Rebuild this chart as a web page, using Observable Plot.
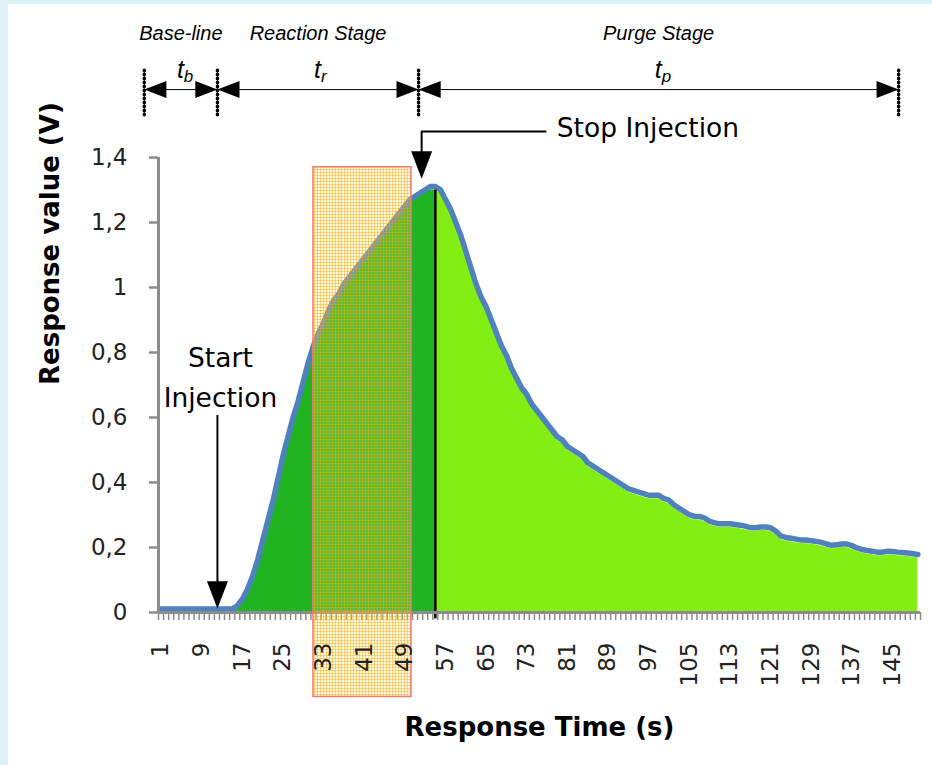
<!DOCTYPE html>
<html>
<head>
<meta charset="utf-8">
<script src="https://cdn.jsdelivr.net/npm/d3@7"></script>
<script src="https://cdn.jsdelivr.net/npm/@observablehq/plot@0.6"></script>
<style>
  html, body { margin: 0; padding: 0; width: 932px; height: 765px; overflow: hidden; background: #fff; }
  .edge { position: absolute; background: #dcf2f5; }
  #edge-left { left: 0; top: 0; width: 8px; height: 765px; }
  #edge-top { left: 0; top: 0; width: 932px; height: 4px; }
  #chart { position: absolute; left: 8px; top: 4px; }
  #chart svg { display: block; }
</style>
</head>
<body>
<div class="edge" id="edge-left"></div>
<div class="edge" id="edge-top"></div>
<div id="chart"></div>
<script>
// Sensor response (V) sampled once per second, t = 1 … 150 s
const times = d3.range(1, 151);
const response = [
  0, 0, 0, 0, 0, 0, 0, 0, 0, 0,
  0, 0, 0, 0, 0, 0.01, 0.03, 0.06, 0.10, 0.15,
  0.21, 0.27, 0.33, 0.40, 0.47, 0.53, 0.59, 0.64, 0.70, 0.76,
  0.81, 0.85, 0.88, 0.92, 0.95, 0.97, 1.00, 1.02, 1.04, 1.06,
  1.08, 1.10, 1.12, 1.14, 1.16, 1.18, 1.20, 1.22, 1.24, 1.26,
  1.27, 1.28, 1.29, 1.30, 1.30, 1.29, 1.26, 1.23, 1.19, 1.15,
  1.10, 1.05, 1.00, 0.96, 0.93, 0.89, 0.85, 0.81, 0.78, 0.74,
  0.71, 0.68, 0.66, 0.63, 0.61, 0.59, 0.57, 0.55, 0.53, 0.52,
  0.50, 0.49, 0.48, 0.47, 0.45, 0.44, 0.43, 0.42, 0.41, 0.40,
  0.39, 0.38, 0.37, 0.365, 0.36, 0.355, 0.35, 0.35, 0.35, 0.34,
  0.335, 0.32, 0.31, 0.30, 0.29, 0.285, 0.285, 0.28, 0.27, 0.265,
  0.262, 0.262, 0.262, 0.26, 0.258, 0.255, 0.25, 0.25, 0.252, 0.252,
  0.25, 0.24, 0.225, 0.22, 0.218, 0.215, 0.212, 0.212, 0.21, 0.208,
  0.205, 0.20, 0.196, 0.198, 0.20, 0.20, 0.195, 0.188, 0.183, 0.18,
  0.178, 0.175, 0.175, 0.178, 0.177, 0.175, 0.174, 0.172, 0.17, 0.168
];

const yTicks = [0, 0.2, 0.4, 0.6, 0.8, 1, 1.2, 1.4];
const xTickLabels = [1, 9, 17, 25, 33, 41, 49, 57, 65, 73, 81, 89, 97, 105, 113, 121, 129, 137, 145];

// Stages of the measurement cycle (time bounds in s)
const stageNames = ["Base-line", "Reaction Stage", "Purge Stage"];
const stageSymbols = ["b", "r", "p"];
const stageBounds = [-2.3, 12.1, 51.7, 146.2];

const injectionStart = 12.1;   // s
const injectionStop = 55;      // s, end of the dark-green region
const stopPointer = 52.3;      // s, where the "Stop Injection" arrow lands
const stopLabelAt = 78.9;      // s, left edge of the "Stop Injection" text
const analysisWindow = [{from: 31, to: 50.3, bottom: -0.26, top: 1.37}];

const data = times.map((t, i) => ({t, v: response[i]}));
const xDomain = [times[0] - 0.5, times[times.length - 1] + 0.5];
const tickBounds = d3.range(xDomain[0], xDomain[1] + 0.01, 1);
const stopValue = response[times.indexOf(injectionStop)];

const segments = stageNames.map((name, i) => ({
  name, sym: stageSymbols[i],
  x1: stageBounds[i], x2: stageBounds[i + 1],
  mid: (stageBounds[i] + stageBounds[i + 1]) / 2
}));

// Filled arrowhead with its tip at the origin, pointing along +x
const arrowHead = {
  draw(context, size) {
    const r = Math.sqrt(size / Math.PI);
    const len = 2.6 * r;
    context.moveTo(0, 0);
    context.lineTo(-len, -r);
    context.lineTo(-len, r);
    context.closePath();
  }
};

const sans = "'DejaVu Sans', sans-serif";
const arial = "'Liberation Sans', Arial, sans-serif";
const gray = "#8c8c8c";

const chart = Plot.plot({
  width: 924,
  height: 761,
  marginLeft: 150,
  marginRight: 12,
  marginTop: 153,
  marginBottom: 153,
  style: {background: "white", fontFamily: sans, fontSize: "23px", color: "#222"},
  x: {domain: xDomain},
  y: {domain: [0, 1.4]},
  marks: [
    // response area: injection phase and purge phase
    Plot.areaY(data.filter(d => d.t <= injectionStop), {x: "t", y: "v", fill: "#20b422"}),
    Plot.areaY(data.filter(d => d.t >= injectionStop), {x: "t", y: "v", fill: "#82ee14"}),
    Plot.line(data, {x: "t", y: "v", stroke: "#4f81bd", strokeWidth: 5.5, dy: -3.5, strokeLinejoin: "round"}),
    Plot.ruleX([injectionStop], {y1: -0.02, y2: stopValue, stroke: "black", strokeWidth: 2.5}),

    // axes
    Plot.axisX({ticks: tickBounds, tickSize: 8, tickFormat: () => "", stroke: gray, strokeWidth: 1.5, label: null}),
    Plot.ruleY([0], {x1: xDomain[0], x2: xDomain[1], stroke: gray, strokeWidth: 3}),
    Plot.ruleX([xDomain[0]], {y1: 0, y2: 1.4, stroke: gray, strokeWidth: 3}),
    Plot.axisY({ticks: yTicks, tickSize: 9, tickPadding: 22, strokeWidth: 2.5, stroke: gray, fill: "#222",
      tickFormat: d => String(d).replace(".", ","), label: null}),

    // highlighted analysis window
    Plot.rect(analysisWindow, {x1: "from", x2: "to", y1: "bottom", y2: "top",
      fill: "url(#hatch)", stroke: "#f07a7a", strokeWidth: 1.5}),

    Plot.axisX({ticks: xTickLabels, tickSize: 0, tickPadding: 30, tickRotate: -90, fill: "#222", label: null}),

    // Start Injection marker
    Plot.ruleX([injectionStart], {y1: 0.606, y2: 0.06, stroke: "black", strokeWidth: 2}),
    Plot.dot([injectionStart], {x: d => d, y: 0.012, symbol: arrowHead, r: 10.5, rotate: 90, fill: "black", stroke: "none"}),
    Plot.text(["Start\nInjection"], {x: injectionStart, y: 0.732, dx: 3, text: d => d, lineHeight: 1.51,
      fontFamily: sans, fontSize: 26.5, fill: "black"}),

    // Stop Injection callout
    Plot.line([{x: stopLabelAt - 2.2, y: 1.48}, {x: stopPointer, y: 1.48}, {x: stopPointer, y: 1.40}],
      {x: "x", y: "y", stroke: "black", strokeWidth: 2}),
    Plot.dot([stopPointer], {x: d => d, y: 1.335, symbol: arrowHead, r: 10.5, rotate: 90, fill: "black", stroke: "none"}),
    Plot.text(["Stop Injection"], {x: stopLabelAt, y: 1.489, text: d => d, textAnchor: "start",
      fontFamily: sans, fontSize: 26.5, fill: "black"}),

    // stage durations above the plot
    Plot.ruleX(stageBounds, {y1: 1.53, y2: 1.677, stroke: "black", strokeWidth: 3.5,
      strokeDasharray: "0.5,3.5", strokeLinecap: "round"}),
    Plot.link(segments, {x1: "x1", x2: "x2", y1: 1.609, y2: 1.609, stroke: "black", strokeWidth: 1}),
    Plot.dot(segments, {x: "x1", y: 1.609, symbol: arrowHead, r: 8.5, rotate: 180, fill: "black", stroke: "none"}),
    Plot.dot(segments, {x: "x2", y: 1.609, symbol: arrowHead, r: 8.5, rotate: 0, fill: "black", stroke: "none"}),
    Plot.text(segments, {x: "mid", y: 1.78, text: "name", fontStyle: "italic", fontFamily: arial, fontSize: 20, fill: "black"}),
    Plot.text(segments, {x: "mid", y: 1.668, text: () => "t", textAnchor: "end", dx: 3,
      fontStyle: "italic", fontFamily: arial, fontSize: 25, fill: "black"}),
    Plot.text(segments, {x: "mid", y: 1.668, text: "sym", textAnchor: "start", dx: 3, dy: 6,
      fontStyle: "italic", fontFamily: arial, fontSize: 17, fill: "black"}),

    // axis titles
    Plot.text(["Response Time (s)"], {frameAnchor: "bottom", dy: 123, text: d => d,
      fontWeight: "bold", fontFamily: sans, fontSize: 26, fill: "black"}),
    Plot.text(["Response value (V)"], {frameAnchor: "left", dx: -108, rotate: -90, text: d => d,
      fontWeight: "bold", fontFamily: sans, fontSize: 26, fill: "black"})
  ]
});

// fine orange grid used to shade the analysis window
const defs = d3.select(chart).insert("defs", ":first-child");
const pattern = defs.append("pattern")
  .attr("id", "hatch").attr("width", 3).attr("height", 3)
  .attr("patternUnits", "userSpaceOnUse");
pattern.append("rect").attr("width", 3).attr("height", 3).attr("fill", "rgba(255, 222, 120, 0.26)");
pattern.append("path").attr("d", "M0,0.5H3M0.5,0V3")
  .attr("stroke", "rgba(238, 168, 0, 0.42)").attr("stroke-width", 1);

document.getElementById("chart").appendChild(chart);
</script>
</body>
</html>
